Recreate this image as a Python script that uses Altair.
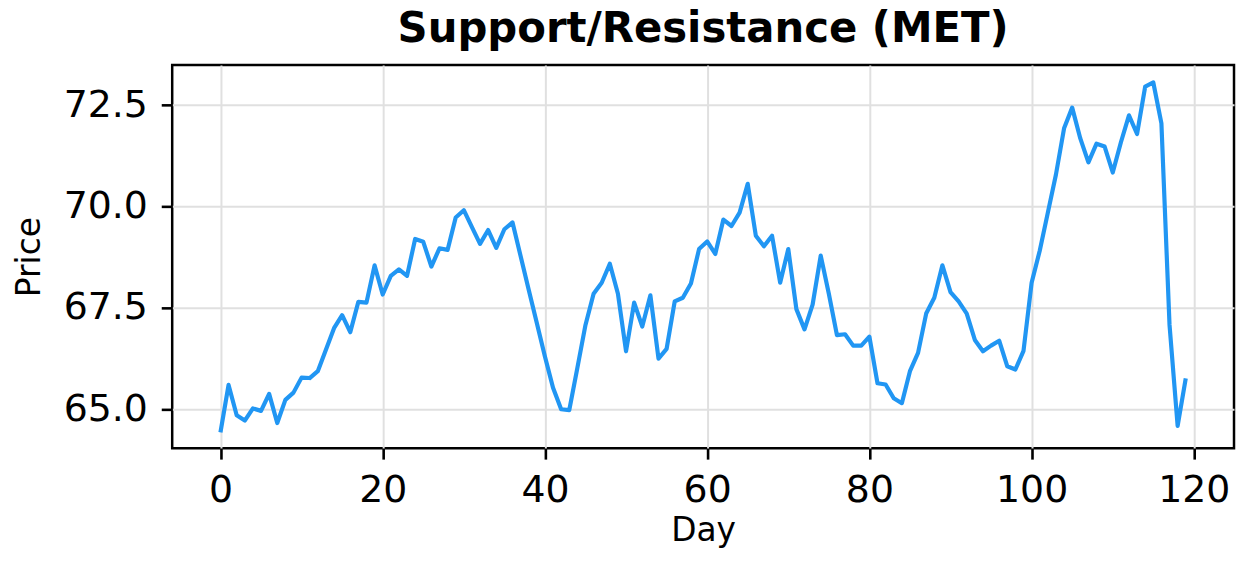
import altair as alt
import pandas as pd

days = list(range(120))
prices = [
    64.43, 65.60, 64.85, 64.72, 65.02, 64.96, 65.38, 64.66, 65.23, 65.41,
    65.78, 65.77, 65.94, 66.47, 67.00, 67.32, 66.90, 67.65, 67.63, 68.55,
    67.83, 68.29, 68.45, 68.29, 69.20, 69.13, 68.52, 68.97, 68.93, 69.73,
    69.91, 69.49, 69.08, 69.42, 68.98, 69.44, 69.61, 68.78, 67.95, 67.13,
    66.30, 65.53, 65.00, 64.98, 66.02, 67.08, 67.85, 68.12, 68.59, 67.85,
    66.43, 67.63, 67.04, 67.81, 66.25, 66.49, 67.66, 67.75, 68.10, 68.95,
    69.14, 68.83, 69.68, 69.52, 69.85, 70.56, 69.28, 69.02, 69.28, 68.12,
    68.95, 67.47, 66.97, 67.58, 68.79, 67.85, 66.83, 66.85, 66.57, 66.57,
    66.79, 65.64, 65.61, 65.27, 65.15, 65.94, 66.39, 67.36, 67.75, 68.55,
    67.89, 67.66, 67.36, 66.71, 66.43, 66.57, 66.69, 66.06, 65.98, 66.44,
    68.12, 68.91, 69.85, 70.79, 71.93, 72.44, 71.68, 71.09, 71.55, 71.48,
    70.84, 71.58, 72.25, 71.79, 72.96, 73.06, 72.05, 67.08, 64.59, 65.76,
]
x_ticks = [0, 20, 40, 60, 80, 100, 120]
y_ticks = [65.0, 67.5, 70.0, 72.5]
title_text = "Support/Resistance (MET)"

df = pd.DataFrame({"Day": days, "Price": prices})
title_df = pd.DataFrame({"title": [title_text]})

FONT = "DejaVu Sans"
W, H = 1067, 385

line = (
    alt.Chart(df)
    .mark_line(color="#2196F3", strokeWidth=4.2, strokeJoin="round")
    .encode(
        x=alt.X(
            "Day:Q",
            scale=alt.Scale(domain=[-5.95, 124.95], nice=False, zero=False),
            axis=alt.Axis(
                values=x_ticks,
                format="d",
                title="Day",
                titleFontSize=33,
                titleFont=FONT,
                titleFontWeight="normal",
                titleColor="black",
                titleBaseline="alphabetic",
                titleY=92.5,
                labelFontSize=38,
                labelFont=FONT,
                labelColor="black",
                labelPadding=13,
                labelFlush=False,
                labelOverlap=False,
                tickSize=11,
                tickWidth=2.6,
                tickColor="black",
                domain=False,
                grid=True,
                gridColor="#e0e0e0",
                gridWidth=2,
            ),
        ),
        y=alt.Y(
            "Price:Q",
            scale=alt.Scale(domain=[64.04, 73.49], nice=False, zero=False),
            axis=alt.Axis(
                values=y_ticks,
                format=".1f",
                title="Price",
                titleFontSize=33,
                titleFont=FONT,
                titleFontWeight="normal",
                titleColor="black",
                titleAngle=270,
                titleBaseline="alphabetic",
                titleAlign="center",
                titleX=-133.7,
                titleY=H / 2,
                labelFontSize=38,
                labelFont=FONT,
                labelColor="black",
                labelPadding=14,
                labelFlush=False,
                labelOverlap=False,
                tickSize=11,
                tickWidth=2.6,
                tickColor="black",
                domain=False,
                grid=True,
                gridColor="#e0e0e0",
                gridWidth=2,
            ),
        ),
    )
)

title = (
    alt.Chart(title_df)
    .mark_text(
        font=FONT,
        fontSize=42,
        fontWeight="bold",
        color="black",
        align="center",
        baseline="alphabetic",
    )
    .encode(
        text="title:N",
        x=alt.value(W / 2),
        y=alt.value(-22.8),
    )
)

chart = (
    alt.layer(line, title)
    .properties(
        width=W,
        height=H,
        background="white",
        autosize=alt.AutoSizeParams(type="none"),
        padding={"left": 165, "top": 56, "right": 2, "bottom": 101},
    )
    .configure_view(stroke="black", strokeWidth=2.5)
)

chart.save("out.html", embed_options={"renderer": "svg", "actions": False})
